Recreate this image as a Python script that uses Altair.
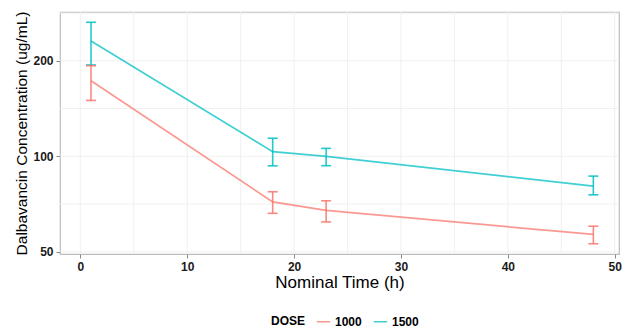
import altair as alt
import pandas as pd

# Mean concentration with error-bar limits by dose group
times = [1, 18, 23, 48]
mean_1000 = [173, 71.8, 67.5, 56.7]
low_1000 = [150, 66.1, 62.1, 53.0]
high_1000 = [193, 77.3, 72.4, 60.2]
mean_1500 = [231, 103.4, 99.9, 80.5]
low_1500 = [194, 93.3, 93.4, 75.6]
high_1500 = [264.5, 114, 105.9, 86.6]

doses = ["1000", "1500"]
colors = ["#F8766D", "#00BFC4"]

x_ticks = [0, 10, 20, 30, 40, 50]
x_grid = [0, 5, 10, 15, 20, 25, 30, 35, 40, 45, 50]
y_ticks = [50, 100, 200]
y_grid = [50, 70.7, 100, 141.4, 200, 282.8]

rows = []
for d, m, lo, hi in [("1000", mean_1000, low_1000, high_1000),
                     ("1500", mean_1500, low_1500, high_1500)]:
    for t, a, b, c in zip(times, m, lo, hi):
        rows.append({"time": t, "DOSE": d, "conc": a, "lo": b, "hi": c})
df = pd.DataFrame(rows)

xscale = alt.Scale(domain=[-1.9, 50.4], nice=False, zero=False)
yscale = alt.Scale(type="log", domain=[49.2, 285], nice=False)
color = alt.Color("DOSE:N", scale=alt.Scale(domain=doses, range=colors),
                  legend=alt.Legend(orient="none", direction="horizontal",
                                    titleOrient="left", legendX=211, legendY=302,
                                    symbolType="stroke", symbolStrokeWidth=1.5,
                                    symbolSize=180, titleFontSize=12,
                                    titleFontWeight="bold", labelFontSize=12,
                                    labelFontWeight="bold", titleColor="black",
                                    labelColor="black", columnPadding=8,
                                    titlePadding=10, symbolOpacity=0.75))

vgrid = alt.Chart(pd.DataFrame({"g": x_grid})).mark_rule(
    color="#F0F0F0", strokeWidth=1).encode(x=alt.X("g:Q", scale=xscale))
hgrid = alt.Chart(pd.DataFrame({"g": y_grid})).mark_rule(
    color="#F0F0F0", strokeWidth=1).encode(y=alt.Y("g:Q", scale=yscale))

base = alt.Chart(df).encode(
    x=alt.X("time:Q", scale=xscale, title="Nominal Time (h)",
            axis=alt.Axis(values=x_ticks, grid=False, domain=False,
                          tickColor="#888888", tickSize=4, labelFontSize=12,
                          labelFontWeight="bold", labelColor="#1a1a1a",
                          labelPadding=3, titleFontSize=17,
                          titleFontWeight="normal", titleColor="black",
                          titlePadding=2)),
    color=color,
)

lines = base.mark_line(strokeWidth=1.7, opacity=0.75).encode(
    y=alt.Y("conc:Q", scale=yscale, title="Dalbavancin Concentration (ug/mL)",
            axis=alt.Axis(values=y_ticks, grid=False, domain=False,
                          tickColor="#888888", tickSize=4, labelFontSize=12,
                          labelFontWeight="bold", labelColor="#1a1a1a",
                          labelPadding=3, titleFontSize=15.5,
                          titleFontWeight="normal", titleColor="black",
                          titlePadding=3)))
bars = base.mark_rule(strokeWidth=1.6, opacity=0.85).encode(
    y=alt.Y("lo:Q", scale=yscale), y2="hi:Q")
cap_lo = base.mark_tick(size=10, thickness=1.6, opacity=0.85,
                        orient="horizontal").encode(
    y=alt.Y("lo:Q", scale=yscale))
cap_hi = base.mark_tick(size=10, thickness=1.6, opacity=0.85,
                        orient="horizontal").encode(
    y=alt.Y("hi:Q", scale=yscale))

chart = alt.layer(vgrid, hgrid, lines, bars, cap_lo, cap_hi).properties(
    width=559, height=242,
    autosize=alt.AutoSizeParams(type="none"),
    padding={"left": 60, "top": 12, "right": 6, "bottom": 76},
).configure(font="Liberation Sans").configure_view(
    stroke="#BDBDBD", strokeWidth=1.2)

chart.save("out.html", embed_options={"renderer": "svg", "actions": False})
